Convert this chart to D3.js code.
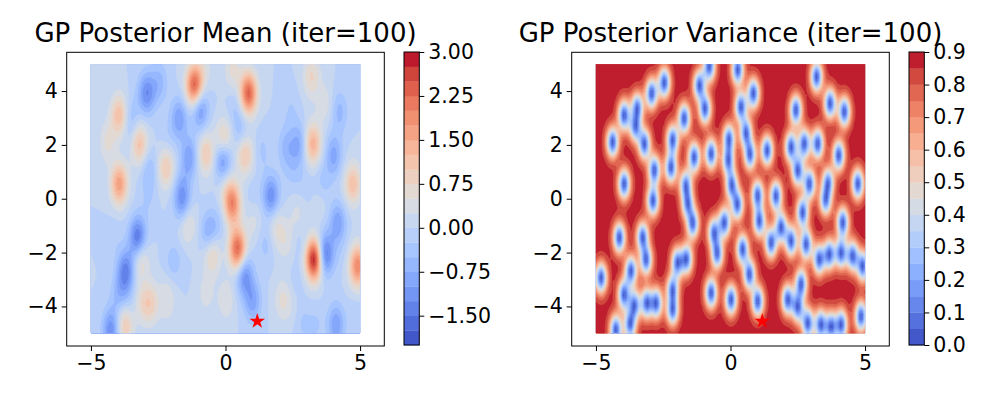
<!DOCTYPE html>
<html>
<head>
<meta charset="utf-8">
<script src="https://cdn.jsdelivr.net/npm/d3@7"></script>
<style>
  body { margin: 0; background: #fff; }
  svg { font-family: "DejaVu Sans", sans-serif; }
</style>
</head>
<body>
<svg width="1000" height="400"></svg>
<script>
// observed points after 100 iterations (x, y, observed value)
const obsX = [-4.38, -3.95, -3.47, -3.52, -2.93, -2.46, -3.20, -3.95, -2.83, -2.88,
  -1.72, -2.15, -2.21, -1.15, -0.95, -0.79, -1.35, -1.65, -1.59, -1.41,
  -0.72, -0.06, -0.08, 0.05, 0.25, 0.27, 0.85, 0.39, 0.58, 0.72,
  1.36, 2.43, 2.25, 2.74, 2.50, 3.20, 3.24, 2.93, 3.70, 4.23,
  4.02, 3.61, 4.73, 1.69, 1.01, -4.13, -3.26, -3.14, -4.81, -3.70,
  -3.95, -3.58, -3.72, -3.10, -2.77, -4.26, -1.96, -1.65, -2.15, -2.15,
  -0.60, -0.50, -0.23, -0.72, 1.07, 1.88, 1.51, 2.25, 2.68, 2.81,
  3.55, 4.17, 4.11, 3.67, 3.30, 4.54, 4.91, 0.45, 0.70, 0.02,
  1.01, 2.13, 2.50, 2.62, 2.87, 3.36, 3.74, 4.11, 4.85];
const obsY = [2.10, 3.10, 3.30, 2.75, 3.91, 4.31, 2.04, 0.55, 1.05, -0.07,
  2.98, 2.17, 1.17, 4.20, 3.35, 4.91, 1.54, 0.42, -0.14, -0.89,
  1.67, 2.17, 1.45, 0.50, -0.20, 4.79, 3.91, 3.41, 2.43, 1.67,
  1.79, 3.29, 1.92, 2.04, 1.05, 4.53, 2.04, 0.55, 3.54, 3.23,
  1.61, 0.49, 0.55, 0.10, 0.11, -1.45, -1.45, -2.24, -2.94, -2.69,
  -3.56, -3.99, -4.62, -3.88, -3.88, -4.87, -2.38, -2.25, -3.44, -4.07,
  -1.30, -2.00, -0.89, -3.50, -0.82, -1.07, -1.63, -1.57, -0.51, -1.69,
  0.05, -0.89, -2.01, -2.07, -2.25, -2.13, -2.50, -1.88, -2.81, -3.75,
  -3.81, -3.75, -4.00, -3.19, -4.62, -4.68, -4.75, -4.68, -4.37];
const obsVal = [0.6, 1.2, -0.3, -0.2, -1.3, -0.7, 1.1, 1.7, -0.5, -0.3,
  -1.0, -0.1, 1.0, 2.3, -0.7, 0.6, -1.0, -1.0, -1.1, 0.4,
  1.0, 0.5, -0.8, 0.8, 2.1, 0.6, 2.4, -0.2, -0.2, 1.0,
  -0.3, -0.3, -0.7, -0.8, -0.5, 0.8, 1.4, -0.2, 0.4, -0.6,
  -0.9, -0.3, 1.2, -1.2, -0.1, -0.2, -1.4, 0.3, 0.0, -1.5,
  -0.8, 0.0, 0.9, 0.8, 1.0, -1.2, -0.4, -0.2, 0.4, 0.4,
  -0.6, 0.6, -0.3, 0.4, 0.3, 0.5, -0.3, 0.5, 0.3, 0.0,
  0.0, -1.0, -0.5, -1.0, 2.8, 0.3, 2.0, 2.3, -1.0, 0.5,
  -1.0, 0.6, 0.2, -0.1, -0.3, -0.3, -0.3, -1.0, -0.2];
const nextPoint = [1.18, -4.55];

const meanLevels = d3.range(-2, 3.001, 0.25);
const varLevels = d3.range(0, 0.9001, 0.05);
const meanTicks = [-1.5, -0.75, 0, 0.75, 1.5, 2.25, 3];
const varTicks = [0, 0.1, 0.2, 0.3, 0.4, 0.5, 0.6, 0.7, 0.8, 0.9];
const xTicks = [-5, 0, 5];
const yTicks = [-4, -2, 0, 2, 4];

// kernel hyperparameters
const lx = 0.22, ly = 0.55, amp = 0.88, noise = 0.01;
const n = 100;

// matplotlib coolwarm
const cwStops = ["#3b4cc0", "#4d68d7", "#6282ea", "#779af7", "#8db0fe", "#a3c2ff", "#b8d0f9", "#ccd9ee",
  "#dddddd", "#ecd3c5", "#f5c4ad", "#f7b194", "#f49a7b", "#ec7f63", "#de604d", "#cb3e38", "#b40426"];
const coolwarm = d3.scaleLinear().domain(cwStops.map((c, i) => i / 16)).range(cwStops);

// ---- GP posterior on a grid ----
const kern = (x1, y1, x2, y2) =>
  amp * Math.exp(-0.5 * (((x1 - x2) / lx) ** 2 + ((y1 - y2) / ly) ** 2));
const N = obsX.length;
const L = [];
for (let i = 0; i < N; i++) {
  L.push(new Float64Array(N));
  for (let j = 0; j <= i; j++) {
    let s = kern(obsX[i], obsY[i], obsX[j], obsY[j]) + (i === j ? noise : 0);
    for (let k = 0; k < j; k++) s -= L[i][k] * L[j][k];
    L[i][j] = i === j ? Math.sqrt(s) : s / L[j][j];
  }
}
function forward(b) {
  const z = new Float64Array(N);
  for (let i = 0; i < N; i++) {
    let s = b[i];
    for (let k = 0; k < i; k++) s -= L[i][k] * z[k];
    z[i] = s / L[i][i];
  }
  return z;
}
const z0 = forward(obsVal);
const alpha = new Float64Array(N);
for (let i = N - 1; i >= 0; i--) {
  let s = z0[i];
  for (let k = i + 1; k < N; k++) s -= L[k][i] * alpha[k];
  alpha[i] = s / L[i][i];
}

const grid = d3.range(n).map(i => -5 + 10 * i / (n - 1));
const meanVals = new Float64Array(n * n), varVals = new Float64Array(n * n);
for (let j = 0; j < n; j++) {
  for (let i = 0; i < n; i++) {
    const kv = obsX.map((ox, k) => kern(grid[i], grid[j], ox, obsY[k]));
    let m = 0;
    for (let k = 0; k < N; k++) m += kv[k] * alpha[k];
    const v = forward(kv);
    let q = 0;
    for (let k = 0; k < N; k++) q += v[k] * v[k];
    meanVals[j * n + i] = m;
    varVals[j * n + i] = amp - q;
  }
}

const svg = d3.select("svg");
const toData = c => -5 + (c - 0.5) * 10 / (n - 1);

function panel(ox, title, values, levels, ticks, fmt, id) {
  const x = d3.scaleLinear().domain([-5.9, 5.9]).range([66.7 + ox, 384.3 + ox]);
  const y = d3.scaleLinear().domain([-5.47, 5.44]).range([346, 52.3]);
  const nb = levels.length - 1;
  const color = i => coolwarm((i + 0.5) / nb);

  svg.append("clipPath").attr("id", id)
    .append("rect")
    .attr("x", x(-5)).attr("y", y(5))
    .attr("width", x(5) - x(-5)).attr("height", y(-5) - y(5));

  const path = d3.geoPath(d3.geoTransform({
    point(px, py) { this.stream.point(x(toData(px)), y(toData(py))); }
  }));
  const contours = d3.contours().size([n, n]).thresholds(levels.slice(0, -1))(values);

  svg.append("g").attr("clip-path", `url(#${id})`)
    .selectAll("path")
    .data(contours)
    .enter().append("path")
    .attr("d", path)
    .attr("fill", (d, i) => color(i))
    .attr("stroke", (d, i) => color(i))
    .attr("stroke-width", 0.3);

  svg.append("path")
    .attr("transform", `translate(${x(nextPoint[0])},${y(nextPoint[1])})`)
    .attr("d", d3.symbol().type(d3.symbolStar).size(75)())
    .attr("fill", "red");

  svg.append("rect")
    .attr("x", x.range()[0]).attr("y", y.range()[1])
    .attr("width", x.range()[1] - x.range()[0]).attr("height", y.range()[0] - y.range()[1])
    .attr("fill", "none").attr("stroke", "#000").attr("stroke-width", 1);

  const gx = svg.append("g").attr("transform", `translate(0,${y.range()[0]})`)
    .call(d3.axisBottom(x).tickValues(xTicks).tickSize(5).tickPadding(4));
  const gy = svg.append("g").attr("transform", `translate(${x.range()[0]},0)`)
    .call(d3.axisLeft(y).tickValues(yTicks).tickSize(5).tickPadding(4));
  [gx, gy].forEach(g => {
    g.select(".domain").remove();
    g.attr("font-family", "DejaVu Sans").attr("font-size", 20.5);
    g.selectAll("text").attr("fill", "#000");
  });

  svg.append("text")
    .attr("x", (x.range()[0] + x.range()[1]) / 2).attr("y", 42)
    .attr("text-anchor", "middle").attr("font-size", 26)
    .text(title);

  // colorbar
  const cx = 404 + ox, cw = 15.3;
  const cy = d3.scaleLinear().domain([levels[0], levels[nb]]).range([345, 52]);
  svg.append("g").selectAll("rect")
    .data(d3.range(nb))
    .enter().append("rect")
    .attr("x", cx).attr("width", cw)
    .attr("y", i => cy(levels[i + 1]))
    .attr("height", i => cy(levels[i]) - cy(levels[i + 1]) + 0.3)
    .attr("fill", i => color(i));
  svg.append("rect")
    .attr("x", cx).attr("y", 52).attr("width", cw).attr("height", 293)
    .attr("fill", "none").attr("stroke", "#000").attr("stroke-width", 1);
  const gc = svg.append("g").attr("transform", `translate(${cx + cw},0)`)
    .call(d3.axisRight(cy).tickValues(ticks).tickFormat(d3.format(fmt)).tickSize(5).tickPadding(4));
  gc.select(".domain").remove();
  gc.attr("font-family", "DejaVu Sans").attr("font-size", 20.5);
  gc.selectAll("text").attr("fill", "#000");
}

panel(0, "GP Posterior Mean (iter=100)", meanVals, meanLevels, meanTicks, ".2f", "clipMean");
panel(505, "GP Posterior Variance (iter=100)", varVals, varLevels, varTicks, ".1f", "clipVar");
</script>
</body>
</html>
